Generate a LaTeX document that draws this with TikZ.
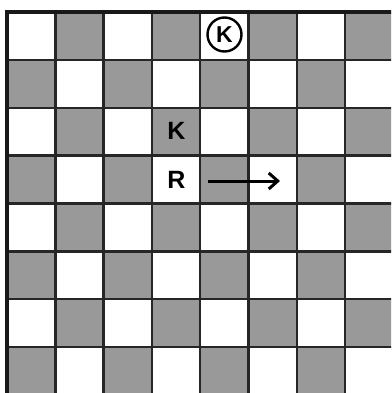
\documentclass[tikz,border=0pt]{standalone}
\usepackage{fontspec}
\setsansfont{Liberation Sans}
\usetikzlibrary{arrows.meta}
\begin{document}
\begin{tikzpicture}[x=1pt,y=-1pt,
  darksq/.style={fill=black!40},
  gridline/.style={draw=black!85, line width=2.4pt},
  piece/.style={font=\sffamily\bfseries\fontsize{25}{25}\selectfont, inner sep=0pt},
  ringpiece/.style={draw=black, circle, line width=2.4pt, minimum size=34pt, inner sep=0pt,
    font=\sffamily\bfseries\fontsize{23}{23}\selectfont},
  movearrow/.style={line width=3pt, -{Straight Barb[length=9pt,width=16pt,line width=3pt]}}]
\useasboundingbox (0,0) rectangle (391,393);
\clip (0,0) rectangle (391,393);
\fill[white] (0,0) rectangle (391,393);
\foreach \i in {0,...,7} {
  \foreach \j in {0,...,7} {
    \pgfmathtruncatemacro{\sqpar}{mod(\i+\j,2)}
    \ifnum\sqpar=1
      \fill[darksq] (7+48.3*\i, 12+47.86*\j) rectangle ++(48.3,47.86);
    \fi
  }
}
\foreach \i in {1,...,8} {
  \draw[gridline] (7+48.3*\i,12) -- (7+48.3*\i,400);
  \draw[gridline] (7,12+47.86*\i) -- (400,12+47.86*\i);
}
\draw[line width=4pt, draw=black!90] (7,400) -- (7,12) -- (400,12);
\node[piece] (K) at (176.5,130.5) {K};
\node[piece] (R) at (176.5,180) {R};
\node[ringpiece] (CK) at (224.5,34.5) {K};
\coordinate (a0) at (208,181);
\coordinate (a1) at (280,181);
\draw[movearrow] (a0) -- (a1);
\end{tikzpicture}
\end{document}
